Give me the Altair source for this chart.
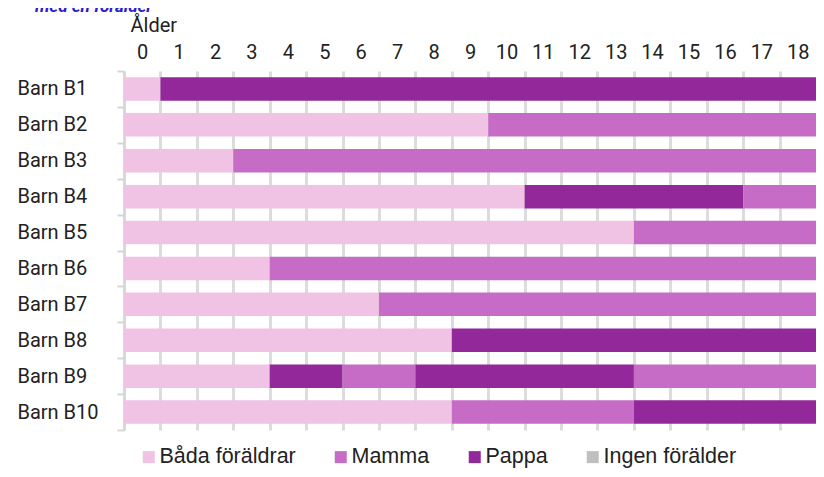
import altair as alt
import pandas as pd

# ---- data ----
children = ["Barn B1", "Barn B2", "Barn B3", "Barn B4", "Barn B5",
            "Barn B6", "Barn B7", "Barn B8", "Barn B9", "Barn B10"]
categories = ["Båda föräldrar", "Mamma", "Pappa", "Ingen förälder"]
colors = ["#f0c2e4", "#c76cc6", "#92289a", "#bfbfbf"]
ages = list(range(19))  # tick labels 0..18
title_text = "med en förälder"

seg_child = ["Barn B1", "Barn B1",
             "Barn B2", "Barn B2",
             "Barn B3", "Barn B3",
             "Barn B4", "Barn B4", "Barn B4",
             "Barn B5", "Barn B5",
             "Barn B6", "Barn B6",
             "Barn B7", "Barn B7",
             "Barn B8", "Barn B8",
             "Barn B9", "Barn B9", "Barn B9", "Barn B9", "Barn B9",
             "Barn B10", "Barn B10", "Barn B10"]
seg_cat = ["Båda föräldrar", "Pappa",
           "Båda föräldrar", "Mamma",
           "Båda föräldrar", "Mamma",
           "Båda föräldrar", "Pappa", "Mamma",
           "Båda föräldrar", "Mamma",
           "Båda föräldrar", "Mamma",
           "Båda föräldrar", "Mamma",
           "Båda föräldrar", "Pappa",
           "Båda föräldrar", "Pappa", "Mamma", "Pappa", "Mamma",
           "Båda föräldrar", "Mamma", "Pappa"]
seg_start = [0, 1,
             0, 10,
             0, 3,
             0, 11, 17,
             0, 14,
             0, 4,
             0, 7,
             0, 9,
             0, 4, 6, 8, 14,
             0, 9, 14]
seg_end = [1, 19,
           10, 19,
           3, 19,
           11, 17, 19,
           14, 19,
           4, 19,
           7, 19,
           9, 19,
           4, 6, 8, 14, 19,
           9, 14, 19]

df = pd.DataFrame({"barn": seg_child, "vardnad": seg_cat,
                   "start": seg_start, "slut": seg_end})
tdf = pd.DataFrame({"t": [title_text]})

W, H = 692, 359
band = W / 19.0

bars = alt.Chart(df).mark_bar(size=23.5, strokeWidth=0).encode(
    x=alt.X("start:Q",
            scale=alt.Scale(domain=[0, 19], nice=False, zero=True),
            axis=alt.Axis(orient="top", values=ages, format="d",
                          title="Ålder", titleAnchor="start", titleAlign="left",
                          titleX=6, titleY=-40, titleBaseline="alphabetic",
                          titleFont="Roboto", titleFontSize=20,
                          titleFontWeight="normal", titleColor="#222222",
                          labelFont="Roboto", labelFontSize=20, labelColor="#222222",
                          labelOffset=band / 2, labelPadding=13,
                          labelBaseline="alphabetic", labelFlush=False,
                          labelOverlap=False,
                          ticks=False, tickSize=0, domain=False,
                          grid=True, gridColor="#dcdcdc", gridWidth=3)),
    x2="slut:Q",
    y=alt.Y("barn:N", sort=children,
            scale=alt.Scale(paddingInner=0, paddingOuter=0),
            axis=alt.Axis(title=None, labelAlign="left", labelPadding=100,
                          tickSize=7, tickBand="extent",
                          domainColor="#d6d6d6", tickColor="#d6d6d6",
                          domainWidth=2, tickWidth=2,
                          labelFont="Roboto", labelFontSize=20,
                          labelColor="#222222", grid=False)),
    color=alt.Color("vardnad:N",
                    scale=alt.Scale(domain=categories, range=colors),
                    legend=alt.Legend(orient="none", legendX=14, legendY=375,
                                      direction="horizontal", title=None,
                                      symbolType="square", symbolSize=144,
                                      symbolStrokeWidth=0,
                                      labelFont="Liberation Sans",
                                      labelFontSize=21.5, labelColor="#222222",
                                      labelOffset=0, columnPadding=34,
                                      padding=0)),
)

title = alt.Chart(tdf).mark_text(
    font="Roboto", fontStyle="italic", fontWeight="bold", fontSize=17,
    color="#2a1ad0", align="left", baseline="alphabetic"
).encode(x=alt.value(-89), y=alt.value(-59), text="t:N")

chart = alt.layer(bars, title).properties(
    width=W, height=H,
    autosize=alt.AutoSizeParams(type="none"),
    padding={"left": 116, "top": 63, "right": 0, "bottom": 39},
).configure_view(stroke=None)

chart.save("out.html", embed_options={"renderer": "svg", "actions": False})
